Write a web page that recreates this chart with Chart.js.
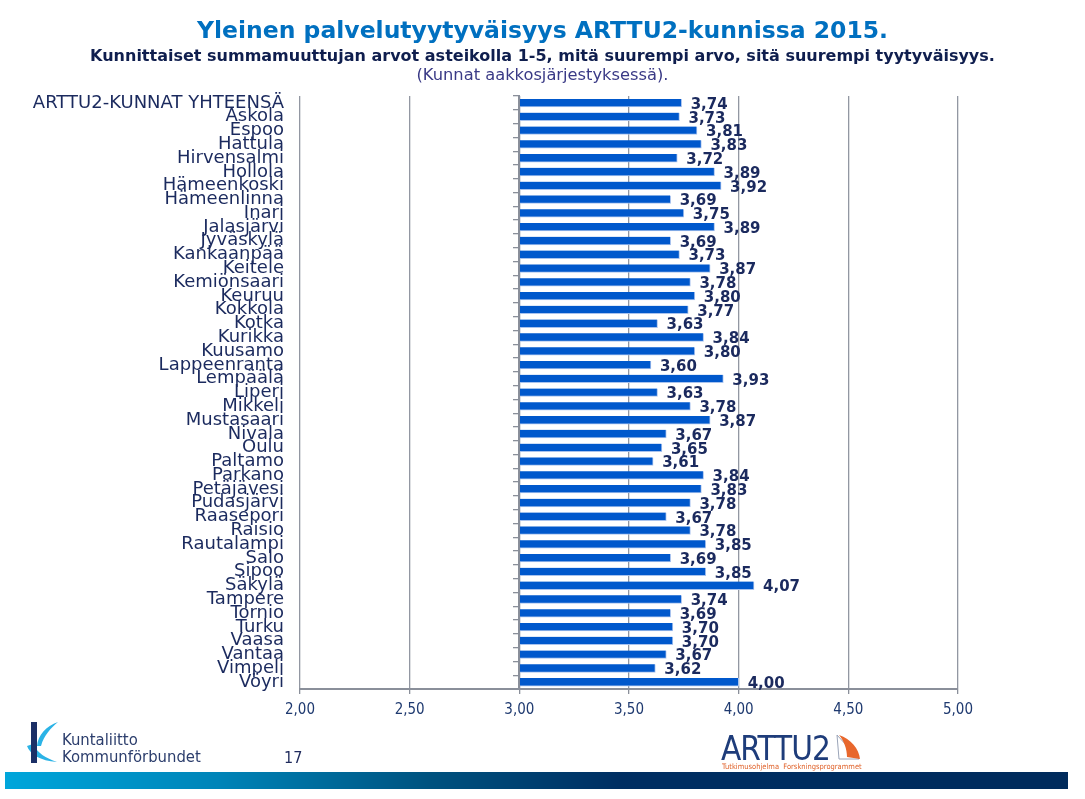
<!DOCTYPE html>
<html><head><meta charset="utf-8">
<script src="https://cdn.jsdelivr.net/npm/chart.js@4.4.1/dist/chart.umd.min.js"></script>
<style>
html,body{margin:0;padding:0;background:#fff;width:1085px;height:799px;overflow:hidden;}
body{position:relative;font-family:"DejaVu Sans",sans-serif;}
#wrap{position:absolute;left:0;top:0;width:1085px;height:799px;}
.hd{position:absolute;left:0;width:1085px;text-align:center;white-space:nowrap;}
#t1{top:16px;line-height:28px;font:bold 23.5px "DejaVu Sans",sans-serif;color:#0070C0;}
#t2{top:46px;line-height:20px;font:bold 16px "DejaVu Sans",sans-serif;color:#0F1E4E;}
#t3{top:65px;line-height:20px;font:16.3px "DejaVu Sans",sans-serif;color:#3A3A86;}
#kl{position:absolute;left:62px;top:731px;font:16.5px "DejaVu Sans Condensed","DejaVu Sans",sans-serif;color:#2B3D6C;line-height:17px;}
#pg{position:absolute;left:284px;top:748px;font:16px "DejaVu Sans Condensed","DejaVu Sans",sans-serif;color:#1F2A5C;}
#ar{position:absolute;left:721px;top:731px;font:33px "DejaVu Sans Condensed","DejaVu Sans",sans-serif;color:#1E3C7A;letter-spacing:-1px;line-height:36px;}
#ars{position:absolute;left:722px;top:762px;font:7.5px "DejaVu Sans Condensed","DejaVu Sans",sans-serif;color:#E0622A;white-space:nowrap;}
#bar{position:absolute;left:5px;top:772px;width:1063px;height:17px;background:linear-gradient(to right,#00A6DB 0%,#0084B8 20%,#00527F 40%,#002E62 58%,#002B5C 100%);}
</style></head>
<body>
<div id="wrap"><canvas id="c"></canvas></div>
<div class="hd" id="t1">Yleinen palvelutyytyväisyys ARTTU2-kunnissa 2015.</div>
<div class="hd" id="t2">Kunnittaiset summamuuttujan arvot asteikolla 1-5, mitä suurempi arvo, sitä suurempi tyytyväisyys.</div>
<div class="hd" id="t3">(Kunnat aakkosjärjestyksessä).</div>
<svg style="position:absolute;left:24px;top:720px" width="36" height="46" viewBox="0 0 36 46">
  <path d="M3 26 C6 34 16 41 33 42 C22 38 13 33 9 24 Z" fill="#2BB3E6"/>
  <rect x="7" y="2" width="6" height="41" fill="#1B2F66"/>
  <path d="M13 26 C14 15 22 6 34 2 C27 8 20 15 17 26 Z" fill="#2BB3E6"/>
</svg>
<div id="kl">Kuntaliitto<br>Kommunförbundet</div>
<div id="pg">17</div>
<div id="ar">ARTTU2</div>
<svg style="position:absolute;left:833px;top:733px" width="30" height="30" viewBox="0 0 30 30">
  <path d="M4 2 L26 26 L6 26 Z" fill="none" stroke="#9AA4B8" stroke-width="1"/>
  <path d="M6 2 C18 6 26 16 27 26 L14 24 C14 16 11 8 6 2 Z" fill="#E8672C"/>
</svg>
<div id="ars">Tutkimusohjelma&nbsp; Forskningsprogrammet</div>
<div id="bar"></div>
<script>
const categories = ["ARTTU2-KUNNAT YHTEENSÄ","Askola","Espoo","Hattula","Hirvensalmi","Hollola","Hämeenkoski","Hämeenlinna","Inari","Jalasjärvi","Jyväskylä","Kankaanpää","Keitele","Kemiönsaari","Keuruu","Kokkola","Kotka","Kurikka","Kuusamo","Lappeenranta","Lempäälä","Liperi","Mikkeli","Mustasaari","Nivala","Oulu","Paltamo","Parkano","Petäjävesi","Pudasjärvi","Raasepori","Raisio","Rautalampi","Salo","Sipoo","Säkylä","Tampere","Tornio","Turku","Vaasa","Vantaa","Vimpeli","Vöyri"];
const satisfaction = [3.74,3.73,3.81,3.83,3.72,3.89,3.92,3.69,3.75,3.89,3.69,3.73,3.87,3.78,3.80,3.77,3.63,3.84,3.80,3.60,3.93,3.63,3.78,3.87,3.67,3.65,3.61,3.84,3.83,3.78,3.67,3.78,3.85,3.69,3.85,4.07,3.74,3.69,3.70,3.70,3.67,3.62,4.00];
const axisMin = 2, axisMax = 5, axisStep = 0.5, barBase = 3;

const fmt = v => Number(v).toFixed(2).replace('.', ',');

const valueLabels = {
  id: 'valueLabels',
  afterDatasetsDraw(chart) {
    const ctx = chart.ctx;
    const meta = chart.getDatasetMeta(0);
    ctx.save();
    ctx.font = 'bold 15px "DejaVu Sans", sans-serif';
    ctx.fillStyle = '#1B2A5E';
    ctx.textAlign = 'left';
    ctx.textBaseline = 'middle';
    meta.data.forEach((el, i) => {
      ctx.fillText(fmt(chart.data.datasets[0].data[i]), el.x + 9, el.y + 2);
    });
    ctx.restore();
  }
};

new Chart(document.getElementById('c'), {
  type: 'bar',
  data: {
    labels: categories,
    datasets: [{
      data: satisfaction,
      base: barBase,
      yAxisID: 'y',
      xAxisID: 'x',
      backgroundColor: '#0058CC',
      borderColor: '#A9C3EE',
      borderWidth: {top: 0, left: 0, right: 1, bottom: 1},
      borderSkipped: false,
      barThickness: 8
    }]
  },
  options: {
    indexAxis: 'y',
    responsive: true,
    maintainAspectRatio: false,
    animation: false,
    layout: {padding: {top: 96, left: 0, right: 127, bottom: 65}},
    plugins: {legend: {display: false}, tooltip: {enabled: false}},
    scales: {
      x: {
        type: 'linear', min: axisMin, max: axisMax,
        ticks: {stepSize: axisStep, callback: v => fmt(v), font: {family: '"DejaVu Sans Condensed", "DejaVu Sans"', size: 15}, color: '#1F3A70', padding: 7},
        grid: {color: '#9297A2', lineWidth: 1.3, tickLength: 5, tickColor: '#8A8F9A'},
        border: {color: '#8A8F9A', width: 2},
        afterFit: s => { s.height = 45; }
      },
      y: {
        type: 'category', position: 'left', offset: true,
        grid: {display: false, drawTicks: false},
        border: {display: false},
        ticks: {autoSkip: false, font: {family: '"DejaVu Sans"', size: 18}, color: '#1B2A5E', padding: 16},
        afterFit: s => { s.width = 300; }
      },
      y2: {
        type: 'category', axis: 'y', position: {x: barBase}, offset: true,
        grid: {offset: true, drawOnChartArea: false, drawTicks: true, tickLength: 5, color: '#8A8F9A', lineWidth: 1.3},
        border: {display: true, color: '#8A8F9A', width: 2},
        ticks: {display: false},
        afterFit: s => { s.width = 0; }
      }
    }
  },
  plugins: [valueLabels]
});
</script>
</body></html>
